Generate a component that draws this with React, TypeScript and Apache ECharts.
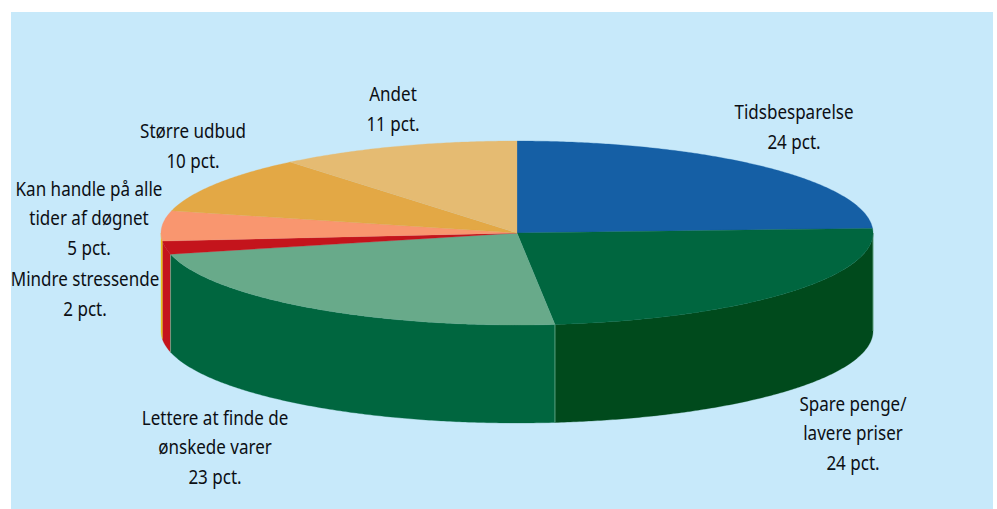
import React, { useEffect, useRef } from "react";
import * as echarts from "echarts";

const categories = [
  "Tidsbesparelse",
  "Spare penge/\nlavere priser",
  "Lettere at finde de\nønskede varer",
  "Mindre stressende",
  "Kan handle på alle\ntider af døgnet",
  "Større udbud",
  "Andet",
];
// Shares read from the slice boundaries; the labels show them rounded.
const values = [24.2, 24.1, 23.0, 2.3, 5.3, 10.1, 11.0];
const topColors = ["#155fa5", "#00663f", "#68aa8a", "#c4141c", "#f9966f", "#e3a845", "#e5bb72"];
const wallColors = ["#0d4a85", "#004a1c", "#00663f", "#c4141c", "#e8c21c", "#c98f30", "#c9a05c"];
const labelCenters = [
  [794, 126],
  [853, 432],
  [215, 446],
  [85, 293],
  [89, 217],
  [193, 145],
  [393, 108],
];

const CX = 517;
const CY = 233;
const RX = 356;
const RY = 92;
const DEPTH = 98;
const total = values.reduce((a, b) => a + b, 0);

const pt = (deg: number, dy = 0): number[] => {
  const r = (deg * Math.PI) / 180;
  return [CX + RX * Math.sin(r), CY - RY * Math.cos(r) + dy];
};

const arc = (a: number, b: number, dy = 0): number[][] => {
  const out: number[][] = [];
  const n = Math.max(2, Math.ceil(Math.abs(b - a) / 0.5));
  for (let i = 0; i <= n; i++) out.push(pt(a + ((b - a) * i) / n, dy));
  return out;
};

const renderItem = (params: any) => {
  const i = params.dataIndex;
  const before = values.slice(0, i).reduce((a, b) => a + b, 0);
  const start = (before / total) * 360;
  const end = ((before + values[i]) / total) * 360;
  const children: any[] = [];
  const ws = Math.max(start, 90);
  const we = Math.min(end, 270);
  if (we > ws) {
    children.push({
      type: "polygon",
      shape: { points: [...arc(ws, we), ...arc(we, ws, DEPTH)] },
      style: { fill: wallColors[i], stroke: wallColors[i], lineWidth: 0.3 },
    });
    if (we - ws > 6) {
      const p0 = pt(ws);
      children.push({
        type: "line",
        shape: { x1: p0[0], y1: p0[1], x2: p0[0], y2: p0[1] + DEPTH },
        style: { stroke: "#6fae93", lineWidth: 0.8 },
      });
    }
  }
  children.push({
    type: "polygon",
    shape: { points: [[CX, CY], ...arc(start, end)] },
    style: { fill: topColors[i], stroke: topColors[i], lineWidth: 0.3 },
  });
  return { type: "group", children };
};

export default function App() {
  const ref = useRef<HTMLDivElement>(null);
  useEffect(() => {
    const chart = echarts.init(ref.current!, undefined, { renderer: "svg" });
    chart.setOption({
      animation: false,
      backgroundColor: "#ffffff",
      graphic: [
        {
          type: "rect",
          z: -1,
          shape: { x: 11, y: 12, width: 982, height: 497 },
          style: { fill: "#c7e9fa" },
        },
        ...categories.map((c, i) => ({
          type: "text",
          z: 10,
          x: labelCenters[i][0],
          y: labelCenters[i][1],
          scaleX: 0.86,
          style: {
            text: `${c}\n${Math.round(values[i])} pct.`,
            fill: "#0c0f14",
            font: '19.8px "Noto Sans"',
            lineHeight: 29.5,
            textAlign: "center",
            textVerticalAlign: "middle",
          },
        })),
      ],
      series: [
        {
          type: "custom",
          coordinateSystem: "none",
          data: values,
          renderItem,
          silent: true,
        },
      ],
    });
    return () => chart.dispose();
  }, []);
  return <div ref={ref} style={{ position: "fixed", left: 0, top: 0, width: 997, height: 509 }} />;
}
